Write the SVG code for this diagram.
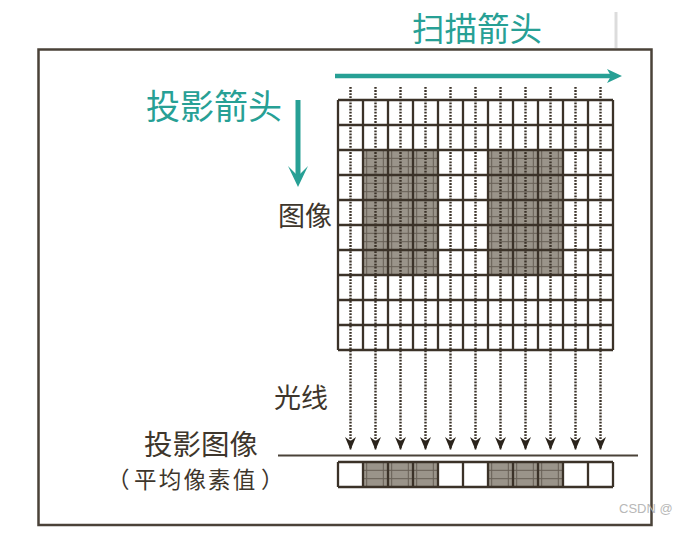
<svg xmlns="http://www.w3.org/2000/svg" width="674" height="536" viewBox="0 0 674 536">
<style>
.cjk{font-family:"Noto Sans CJK SC","Noto Sans",sans-serif;}
.teal{fill:#27a095;}
.dark{fill:#3e362c;}
.grid{fill:none;stroke:#3b3228;stroke-width:2.3;}
.ray{stroke:#3b3228;stroke-width:2.4;stroke-dasharray:1.8 1.3;fill:none;}
</style>
<defs>
<marker id="ah" viewBox="-1 -7 15 14" markerWidth="15" markerHeight="14" refX="13" refY="0" orient="auto" markerUnits="userSpaceOnUse">
<path d="M0,-5.5 L13,0 L0,5.5 L4,0 Z" fill="#2b241c"/>
</marker>
<pattern id="sg" x="0" y="0" width="25" height="25" patternUnits="userSpaceOnUse">
<rect width="25" height="25" fill="#9a948a"/>
<path d="M8.3,0V25M16.7,0V25M0,8.3H25M0,16.7H25" stroke="#3b3228" stroke-width="1" opacity="0.55"/>
</pattern>
<pattern id="sg2" x="0" y="462" width="25" height="25" patternUnits="userSpaceOnUse">
<rect width="25" height="25" fill="#9a948a"/>
<path d="M8.3,0V25M16.7,0V25M0,8.3H25M0,16.7H25" stroke="#3b3228" stroke-width="1" opacity="0.55"/>
</pattern>
</defs>
<rect width="674" height="536" fill="#ffffff"/>
<line x1="616" y1="12" x2="616" y2="48" stroke="#dcdcdc" stroke-width="3"/>
<rect id="frame" x="38.5" y="49.5" width="613" height="475.5" fill="none" stroke="#4a4238" stroke-width="2.5"/>

<g id="scan-label">
<text class="cjk teal" x="412" y="41" font-size="32.5">扫描箭头</text>
</g>
<g id="scan-arrow">
<line x1="335" y1="76" x2="611" y2="76" stroke="#27a095" stroke-width="4.5"/>
<path d="M607,69 L622,76 L607,83 L611,76 Z" fill="#27a095"/>
</g>
<g id="proj-label">
<text class="cjk teal" x="146" y="119" font-size="34">投影箭头</text>
</g>
<g id="proj-arrow">
<line x1="298" y1="100" x2="298" y2="177" stroke="#27a095" stroke-width="5"/>
<path d="M288,166 L298,187 L308,166 L298,176 Z" fill="#27a095"/>
</g>

<g id="image">
<rect x="363" y="150" width="75" height="125" fill="url(#sg)"/>
<rect x="488" y="150" width="75" height="125" fill="url(#sg)"/>
<path class="grid" d="M338,100V350M363,100V350M388,100V350M413,100V350M438,100V350M463,100V350M488,100V350M513,100V350M538,100V350M563,100V350M588,100V350M613,100V350M338,100H613M338,125H613M338,150H613M338,175H613M338,200H613M338,225H613M338,250H613M338,275H613M338,300H613M338,325H613M338,350H613"/>
<text class="cjk dark" x="278" y="226" font-size="27">图像</text>
</g>

<g id="rays-label">
<text class="cjk dark" x="274" y="408" font-size="27">光线</text>
</g>

<g id="connectors">
<line class="ray" x1="350.5" y1="87" x2="350.5" y2="450" marker-end="url(#ah)"/>
<line class="ray" x1="375.5" y1="87" x2="375.5" y2="450" marker-end="url(#ah)"/>
<line class="ray" x1="400.5" y1="87" x2="400.5" y2="450" marker-end="url(#ah)"/>
<line class="ray" x1="425.5" y1="87" x2="425.5" y2="450" marker-end="url(#ah)"/>
<line class="ray" x1="450.5" y1="87" x2="450.5" y2="450" marker-end="url(#ah)"/>
<line class="ray" x1="475.5" y1="87" x2="475.5" y2="450" marker-end="url(#ah)"/>
<line class="ray" x1="500.5" y1="87" x2="500.5" y2="450" marker-end="url(#ah)"/>
<line class="ray" x1="525.5" y1="87" x2="525.5" y2="450" marker-end="url(#ah)"/>
<line class="ray" x1="550.5" y1="87" x2="550.5" y2="450" marker-end="url(#ah)"/>
<line class="ray" x1="575.5" y1="87" x2="575.5" y2="450" marker-end="url(#ah)"/>
<line class="ray" x1="600.5" y1="87" x2="600.5" y2="450" marker-end="url(#ah)"/>
</g>

<g id="projection">
<line x1="278" y1="455.5" x2="638" y2="455.5" stroke="#4a4238" stroke-width="2"/>
<rect x="363" y="462" width="75" height="25" fill="url(#sg2)"/>
<rect x="488" y="462" width="75" height="25" fill="url(#sg2)"/>
<path class="grid" d="M338,462H613M338,487H613M338,462V487M363,462V487M388,462V487M413,462V487M438,462V487M463,462V487M488,462V487M513,462V487M538,462V487M563,462V487M588,462V487M613,462V487"/>
<text class="cjk dark" x="144" y="455" font-size="28.5">投影图像</text>
<text class="cjk dark" y="488" font-size="22.5"><tspan x="107">（</tspan><tspan x="134" letter-spacing="2.2">平均像素值</tspan><tspan x="261">）</tspan></text>
</g>

<text x="619" y="513" font-family="Liberation Sans, sans-serif" font-size="13" fill="#b8b8b8">CSDN @</text>
</svg>
